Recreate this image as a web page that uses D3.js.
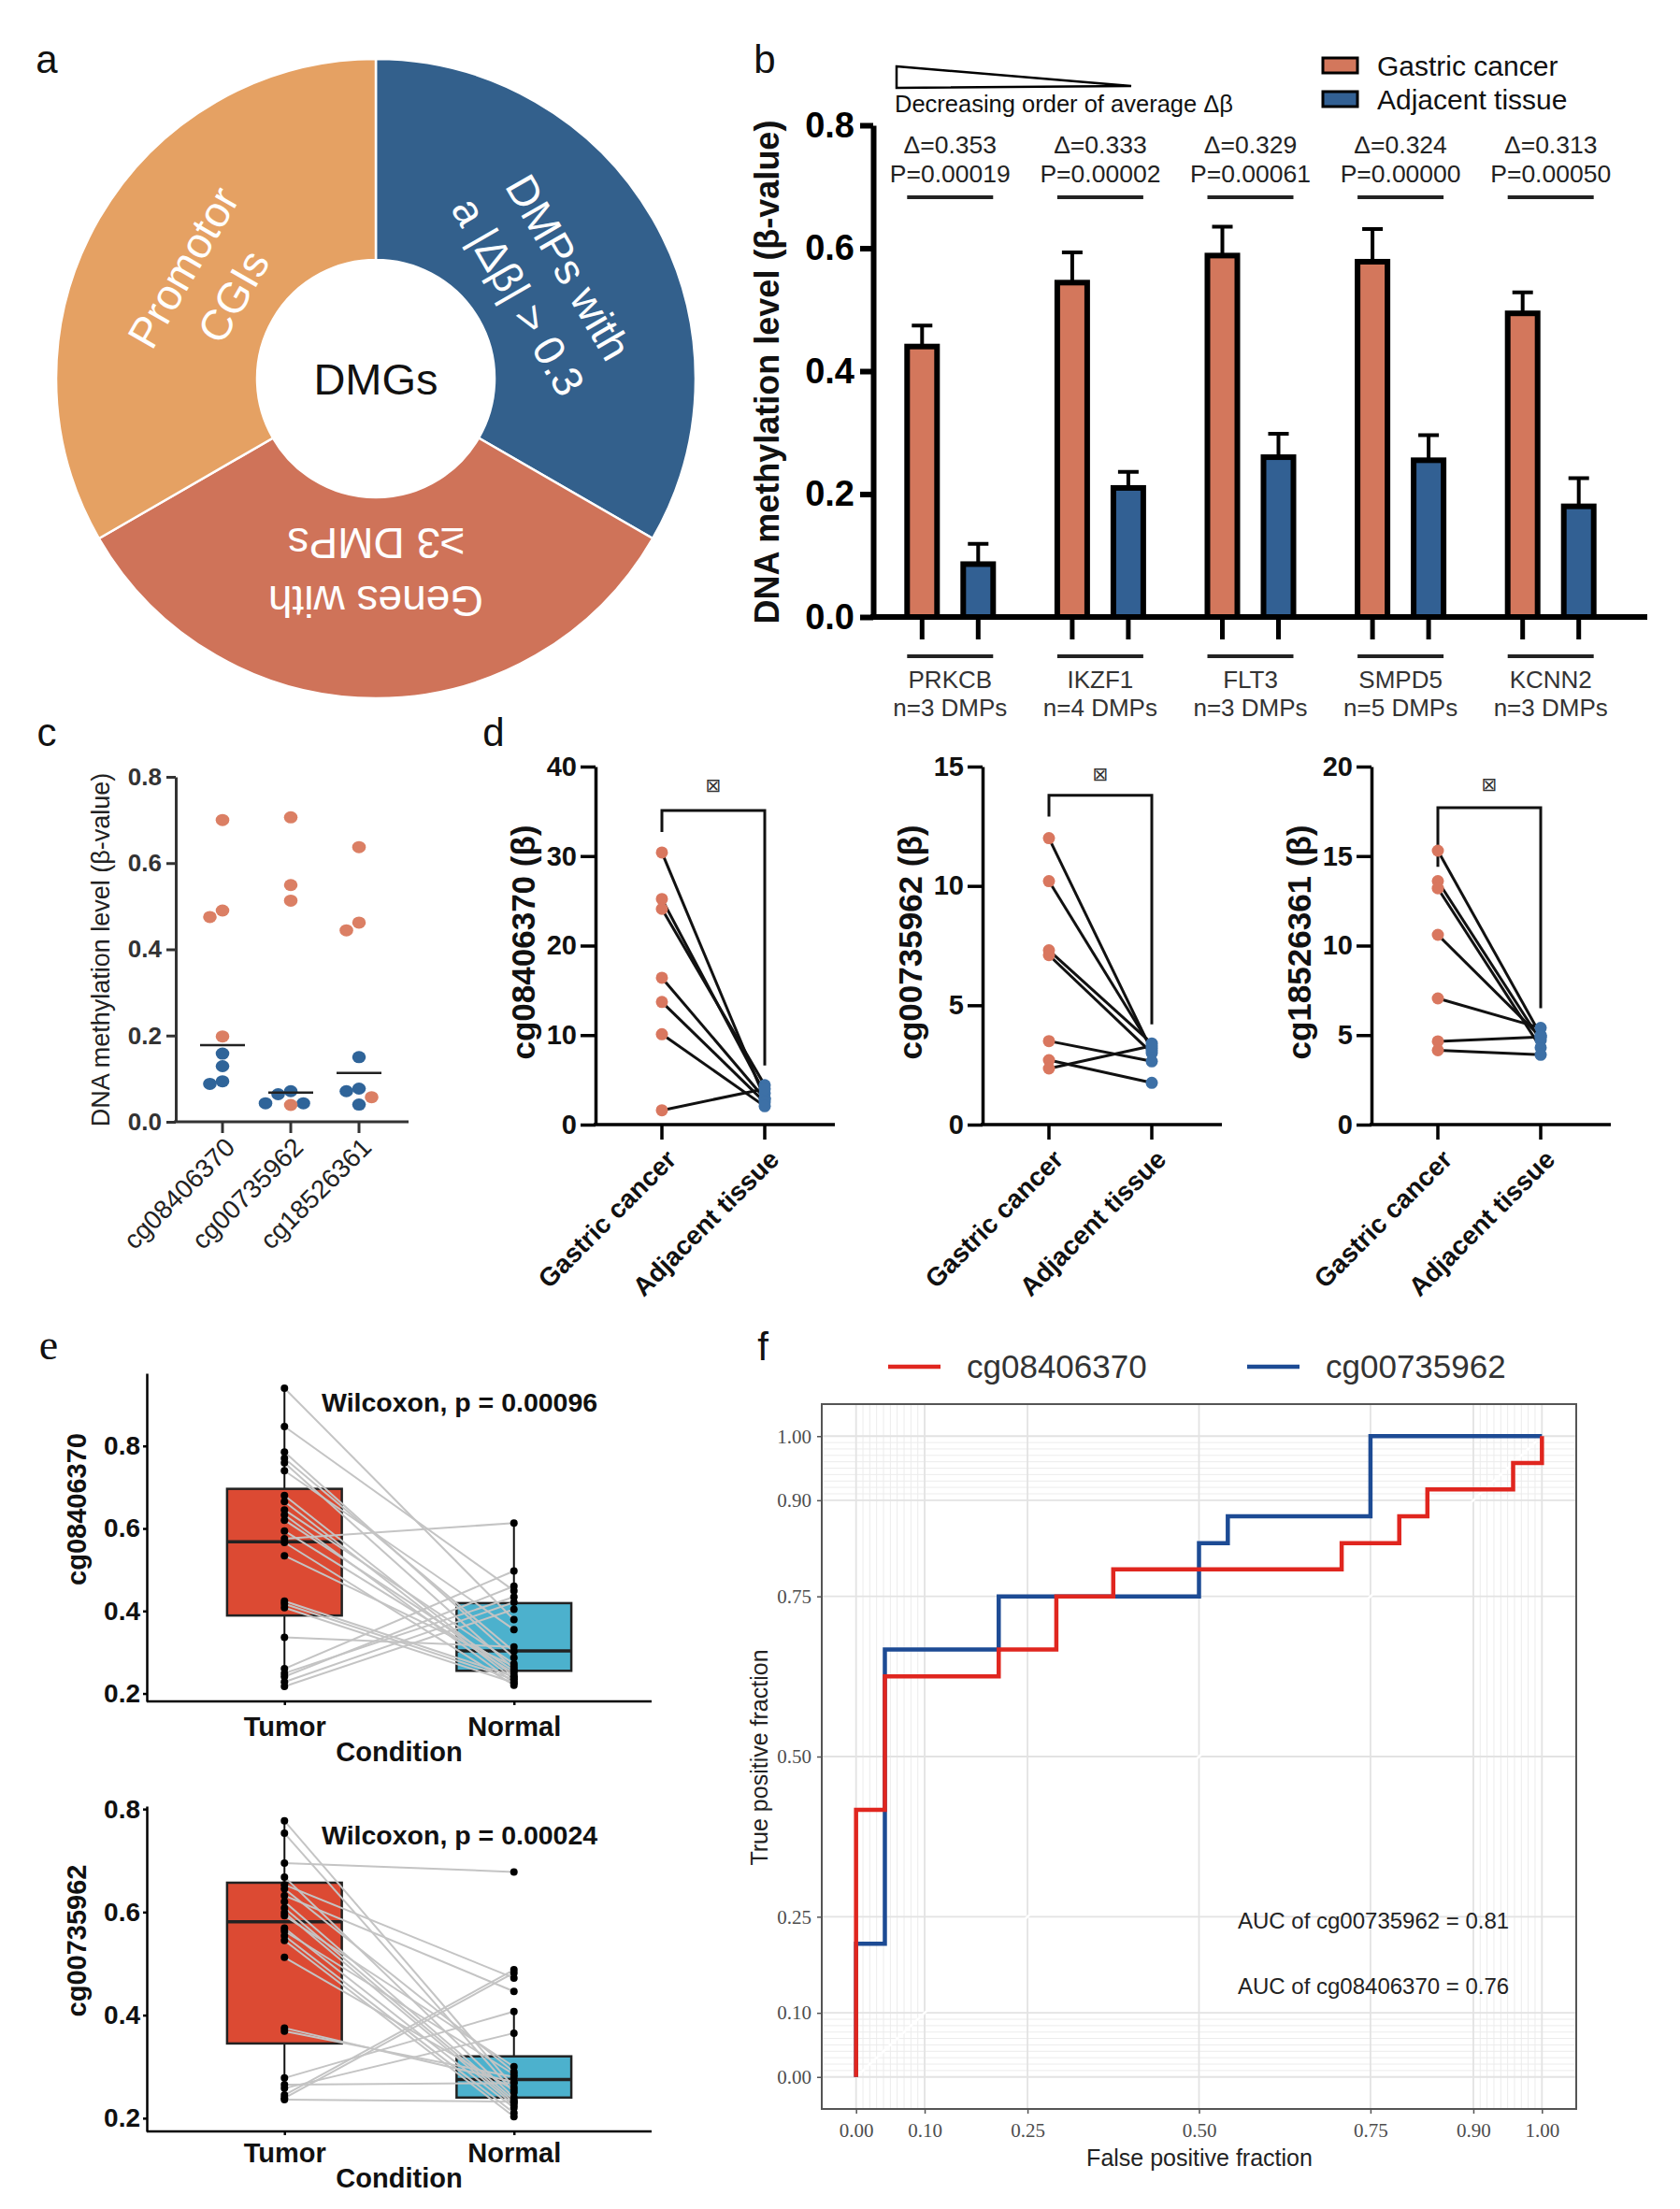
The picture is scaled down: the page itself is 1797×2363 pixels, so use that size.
<!DOCTYPE html>
<html>
<head>
<meta charset="utf-8">
<script src="https://cdn.jsdelivr.net/npm/d3@7"></script>
<style>
  body { margin: 0; background: #fff; }
  svg { display: block; font-family: "Liberation Sans", Arial, sans-serif; }
</style>
</head>
<body>
<div id="chart"></div>
<script>
// ---- panel a: donut ----
const donutValues = [1, 1, 1];
const donutText = [["DMPs with", "a |Δβ| > 0.3"], ["Genes with", "≥3 DMPs"], ["Promotor", "CGIs"]];
const donutColors = ["#33608c", "#cf7359", "#e5a163"];

// ---- panel b: bars ----
const genes = ["PRKCB", "IKZF1", "FLT3", "SMPD5", "KCNN2"];
const geneDMPs = ["n=3 DMPs", "n=4 DMPs", "n=3 DMPs", "n=5 DMPs", "n=3 DMPs"];
const deltas = ["0.353", "0.333", "0.329", "0.324", "0.313"];
const pvals = ["0.00019", "0.00002", "0.00061", "0.00000", "0.00050"];
const cancerMean = [0.440, 0.544, 0.588, 0.578, 0.494];
const cancerErr = [0.034, 0.049, 0.047, 0.053, 0.034];
const adjMean = [0.086, 0.210, 0.260, 0.255, 0.180];
const adjErr = [0.033, 0.026, 0.038, 0.041, 0.046];
const ticksB = [0, 0.2, 0.4, 0.6, 0.8];

// ---- panel c: dot plot ----
const probes = ["cg08406370", "cg00735962", "cg18526361"];
const cCancer = [[0.700, 0.490, 0.475, 0.198], [0.706, 0.549, 0.513, 0.039], [0.637, 0.462, 0.444, 0.057]];
const cAdjacent = [[0.158, 0.129, 0.094, 0.088], [0.071, 0.064, 0.043, 0.043], [0.150, 0.077, 0.071, 0.040]];

// ---- panel d: paired plots ----
const dGroups = ["Gastric cancer", "Adjacent tissue"];
const dTitles = ["cg08406370 (β)", "cg00735962 (β)", "cg18526361 (β)"];
const dMax = [40, 15, 20];
const dTicks = [[0, 10, 20, 30, 40], [0, 5, 10, 15], [0, 5, 10, 15, 20]];
const dCancer = [[30.4, 25.2, 24.1, 16.4, 13.7, 10.1, 1.6], [12.0, 10.2, 7.3, 7.1, 3.5, 2.7, 2.35], [15.3, 13.6, 13.2, 10.6, 7.05, 4.65, 4.15]];
const dAdjacent = [[2.9, 3.5, 4.4, 2.9, 2.5, 2.05, 4.0], [3.1, 3.2, 3.4, 3.0, 2.65, 1.75, 3.3], [5.0, 4.7, 4.3, 4.9, 5.4, 4.9, 3.9]];
const dBracket = [[32.7, 35.1, 6.6], [12.9, 13.8, 4.2], [14.4, 17.7, 6.5]]; // left leg, top, right leg (data units)
const dStar = [37.9, 14.7, 19.0];

// ---- panel e: paired box plots ----
const eGroups = ["Tumor", "Normal"];
const eTitles = ["cg08406370", "cg00735962"];
const eWilcox = ["Wilcoxon, p = 0.00096", "Wilcoxon, p = 0.00024"];
const eTicks = [0.2, 0.4, 0.6, 0.8];
const eTumor = [
  [0.94, 0.847, 0.785, 0.77, 0.759, 0.74, 0.68, 0.665, 0.645, 0.633, 0.62, 0.594, 0.575, 0.566, 0.534, 0.424, 0.417, 0.408, 0.336, 0.26, 0.249, 0.241, 0.228, 0.217],
  [0.777, 0.753, 0.695, 0.668, 0.653, 0.645, 0.632, 0.62, 0.608, 0.599, 0.593, 0.569, 0.563, 0.554, 0.545, 0.512, 0.375, 0.369, 0.278, 0.265, 0.258, 0.245, 0.239, 0.236]
];
const eNormal = [
  [0.379, 0.449, 0.287, 0.302, 0.26, 0.355, 0.241, 0.234, 0.272, 0.226, 0.255, 0.249, 0.613, 0.22, 0.266, 0.241, 0.234, 0.226, 0.313, 0.497, 0.434, 0.46, 0.421, 0.404],
  [0.26, 0.25, 0.678, 0.24, 0.472, 0.29, 0.446, 0.235, 0.23, 0.225, 0.30, 0.22, 0.285, 0.21, 0.203, 0.255, 0.27, 0.28, 0.407, 0.268, 0.365, 0.488, 0.482, 0.232]
];
// [lower whisker, q1, median, q3, upper whisker]
const eBoxTumor = [[0.217, 0.389, 0.568, 0.696, 0.94], [0.236, 0.345, 0.581, 0.657, 0.777]];
const eBoxNormal = [[0.22, 0.255, 0.303, 0.419, 0.613], [0.203, 0.24, 0.275, 0.32, 0.407]];

// ---- panel f: ROC ----
const rocNames = ["cg08406370", "cg00735962"];
const rocFpr = [
  [0, 0, 0.042, 0.208, 0.292, 0.375, 0.708, 0.792, 0.833, 0.958, 1],
  [0, 0, 0.042, 0.208, 0.5, 0.542, 0.75, 1]
];
const rocTpr = [
  [0, 0.417, 0.625, 0.667, 0.75, 0.792, 0.833, 0.875, 0.917, 0.958, 1],
  [0, 0.208, 0.667, 0.75, 0.833, 0.875, 1, 1]
];
const rocAUC = ["AUC of cg00735962 = 0.81", "AUC of cg08406370 = 0.76"];
const rocMajor = [0, 0.1, 0.25, 0.5, 0.75, 0.9, 1];
const rocMinor = d3.range(0, 0.1001, 0.01).concat(d3.range(0.9, 1.0001, 0.01));

const W = 1797, H = 2363;
const svg = d3.select("#chart").append("svg").attr("width", W).attr("height", H);
svg.append("rect").attr("width", W).attr("height", H).attr("fill", "#fff");

function styleAxis(g, sw, size, weight, color, family) {
  g.select(".domain").attr("stroke-width", sw).attr("stroke", "#000");
  g.selectAll(".tick line").attr("stroke-width", sw).attr("stroke", "#000");
  g.selectAll(".tick text").attr("font-size", size).attr("font-weight", weight)
    .attr("fill", color).attr("font-family", family || "Liberation Sans, Arial, sans-serif");
}

// panel letters
[["a", 50, 63], ["b", 818, 63], ["c", 50, 783], ["d", 528, 783], ["f", 816, 1440]].forEach(p => {
  svg.append("text").attr("x", p[1]).attr("y", p[2]).attr("dy", "0.35em").attr("text-anchor", "middle")
    .attr("font-size", 42).attr("fill", "#111").text(p[0]);
});
svg.append("text").attr("x", 52).attr("y", 1440).attr("dy", "0.3em").attr("text-anchor", "middle")
  .attr("font-size", 46).attr("font-family", "Liberation Serif, serif").attr("fill", "#111").text("e");

// ================= a =================
{
  const gA = svg.append("g").attr("transform", "translate(402,405)");
  const pie = d3.pie().sort(null).value(d => d);
  const arc = d3.arc().innerRadius(127).outerRadius(342);
  const arcs = pie(donutValues);
  gA.selectAll("path").data(arcs).join("path")
    .attr("d", arc).attr("fill", (d, i) => donutColors[i])
    .attr("stroke", "#fff").attr("stroke-width", 2.5);
  gA.selectAll("g.lab").data(arcs).join("g").attr("class", "lab")
    .attr("transform", d => {
      const a = (d.startAngle + d.endAngle) / 2;
      return `translate(${Math.sin(a) * 207},${-Math.cos(a) * 207}) rotate(${a * 180 / Math.PI})`;
    })
    .each(function(d, i) {
      d3.select(this).selectAll("text").data(donutText[i]).join("text")
        .attr("y", (t, j) => (j - 0.5) * 62).attr("dy", "0.35em")
        .attr("text-anchor", "middle").attr("fill", "#fff").attr("font-size", 46).text(t => t);
    });
  gA.append("text").attr("text-anchor", "middle").attr("dy", "0.36em")
    .attr("font-size", 47).attr("fill", "#111").text("DMGs");
}

// ================= b =================
{
  const y = d3.scaleLinear().domain([0, 0.8]).range([660, 134]);
  const x = d3.scaleBand().domain(genes).range([936, 1739]);
  const xi = d3.scaleBand().domain(["cancer", "adjacent"]).range([-60, 60]);
  const gc = g => x(g) + x.bandwidth() / 2;
  const bw = 32;
  const series = [
    { key: "cancer", mean: cancerMean, err: cancerErr, color: "#d3775c" },
    { key: "adjacent", mean: adjMean, err: adjErr, color: "#326093" }
  ];

  series.forEach(s => {
    const cxs = genes.map(g => gc(g) + xi(s.key) + xi.bandwidth() / 2);
    // error bars
    svg.append("g").selectAll("path").data(genes).join("path")
      .attr("d", (g, i) => {
        const c = cxs[i], y0 = y(s.mean[i]), y1 = y(s.mean[i] + s.err[i]);
        return `M${c},${y0}V${y1}M${c - 11},${y1}H${c + 11}`;
      })
      .attr("stroke", "#000").attr("stroke-width", 4).attr("fill", "none");
    svg.append("g").selectAll("rect").data(genes).join("rect")
      .attr("x", (g, i) => cxs[i] - bw / 2).attr("width", bw)
      .attr("y", (g, i) => y(s.mean[i])).attr("height", (g, i) => y(0) - y(s.mean[i]))
      .attr("fill", s.color).attr("stroke", "#000").attr("stroke-width", 6);
    // x ticks under bars
    svg.append("g").selectAll("line").data(genes).join("line")
      .attr("x1", (g, i) => cxs[i]).attr("x2", (g, i) => cxs[i])
      .attr("y1", y(0)).attr("y2", y(0) + 24).attr("stroke", "#000").attr("stroke-width", 5);
  });

  // axes
  const ya = svg.append("g").attr("transform", "translate(934,0)")
    .call(d3.axisLeft(y).tickValues(ticksB).tickFormat(d3.format(".1f")).tickSize(14).tickSizeOuter(0).tickPadding(6));
  styleAxis(ya, 6, 38, "bold", "#000");
  svg.append("line").attr("x1", 931).attr("x2", 1762).attr("y1", y(0)).attr("y2", y(0))
    .attr("stroke", "#000").attr("stroke-width", 6);

  svg.append("text").attr("transform", "translate(820,398) rotate(-90)").attr("text-anchor", "middle")
    .attr("dy", "0.35em").attr("font-size", 36).attr("font-weight", "bold").attr("fill", "#111")
    .text("DNA methylation level (β-value)");

  // group annotations
  const ann = svg.append("g").selectAll("g").data(genes).join("g")
    .attr("transform", g => `translate(${gc(g)},0)`);
  ann.append("text").attr("y", 155).attr("dy", "0.35em").attr("text-anchor", "middle")
    .attr("font-size", 26.5).attr("fill", "#222").text((g, i) => `Δ=${deltas[i]}`);
  ann.append("text").attr("y", 186).attr("dy", "0.35em").attr("text-anchor", "middle")
    .attr("font-size", 26.5).attr("fill", "#222").text((g, i) => `P=${pvals[i]}`);
  ann.append("line").attr("x1", -46).attr("x2", 46).attr("y1", 211).attr("y2", 211)
    .attr("stroke", "#222").attr("stroke-width", 4);
  ann.append("line").attr("x1", -46).attr("x2", 46).attr("y1", 702).attr("y2", 702)
    .attr("stroke", "#222").attr("stroke-width", 4);
  ann.append("text").attr("y", 727).attr("dy", "0.35em").attr("text-anchor", "middle")
    .attr("font-size", 26).attr("fill", "#333").text(g => g);
  ann.append("text").attr("y", 757).attr("dy", "0.35em").attr("text-anchor", "middle")
    .attr("font-size", 26).attr("fill", "#333").text((g, i) => geneDMPs[i]);

  // wedge + caption
  svg.append("path").attr("d", "M959,71L1210,92L959,94Z").attr("fill", "#fff")
    .attr("stroke", "#000").attr("stroke-width", 2.5);
  svg.append("text").attr("x", 957).attr("y", 111).attr("dy", "0.35em").attr("font-size", 25.5)
    .attr("fill", "#111").text("Decreasing order of average Δβ");

  // legend
  const leg = svg.append("g").selectAll("g").data(series).join("g")
    .attr("transform", (s, i) => `translate(1415,${70 + i * 36})`);
  leg.append("rect").attr("x", 0).attr("y", -8).attr("width", 37).attr("height", 16)
    .attr("fill", s => s.color).attr("stroke", "#000").attr("stroke-width", 3);
  leg.append("text").attr("x", 58).attr("dy", "0.35em").attr("font-size", 30).attr("fill", "#111")
    .text((s, i) => i === 0 ? "Gastric cancer" : "Adjacent tissue");
}

// ================= c =================
{
  const y = d3.scaleLinear().domain([0, 0.8]).range([1200, 831]);
  const x = d3.scalePoint().domain(probes).range([238, 384]);
  const r = 6.5, step = 13.5;
  probes.forEach((p, k) => {
    const pts = cCancer[k].map(v => ({ v, c: "#db7f64" }))
      .concat(cAdjacent[k].map(v => ({ v, c: "#2f6499" })))
      .sort((a, b) => b.v - a.v);
    const placed = [];
    pts.forEach(pt => {
      const py = y(pt.v);
      for (const o of [0, -1, 1, -2, 2, -3, 3]) {
        const px = x(p) + o * step;
        if (placed.every(q => Math.hypot(q.x - px, q.y - py) >= 2 * r)) {
          placed.push({ x: px, y: py, c: pt.c });
          break;
        }
      }
    });
    svg.append("g").selectAll("ellipse").data(placed).join("ellipse")
      .attr("cx", d => d.x).attr("cy", d => d.y).attr("rx", r + 0.8).attr("ry", r)
      .attr("fill", d => d.c);
    const med = d3.median(cCancer[k].concat(cAdjacent[k]));
    svg.append("line").attr("x1", x(p) - 24).attr("x2", x(p) + 24)
      .attr("y1", y(med)).attr("y2", y(med)).attr("stroke", "#222").attr("stroke-width", 2.5);
  });
  const ya = svg.append("g").attr("transform", "translate(188,0)")
    .call(d3.axisLeft(y).tickValues([0, 0.2, 0.4, 0.6, 0.8]).tickFormat(d3.format(".1f")).tickSize(10).tickSizeOuter(0).tickPadding(5));
  styleAxis(ya, 3, 26, "bold", "#333");
  ya.select(".domain").attr("stroke", "#333");
  ya.selectAll(".tick line").attr("stroke", "#333");
  svg.append("line").attr("x1", 186).attr("x2", 437).attr("y1", y(0)).attr("y2", y(0))
    .attr("stroke", "#333").attr("stroke-width", 3);
  svg.append("g").selectAll("line").data(probes).join("line")
    .attr("x1", d => x(d)).attr("x2", d => x(d)).attr("y1", y(0)).attr("y2", y(0) + 12)
    .attr("stroke", "#333").attr("stroke-width", 3);
  svg.append("g").selectAll("text").data(probes).join("text")
    .attr("transform", d => `translate(${x(d) + 8},${y(0) + 22}) rotate(-45)`)
    .attr("text-anchor", "end").attr("dy", "0.35em").attr("font-size", 28).attr("fill", "#222").text(d => d);
  svg.append("text").attr("transform", "translate(108,1016) rotate(-90)").attr("text-anchor", "middle")
    .attr("dy", "0.35em").attr("font-size", 27).attr("fill", "#222").text("DNA methylation level (β-value)");
}

// ================= d =================
{
  const axisXs = [637, 1051, 1467];
  dTitles.forEach((title, k) => {
    const x0 = axisXs[k];
    const y = d3.scaleLinear().domain([0, dMax[k]]).range([1203, 820]);
    const x = d3.scalePoint().domain(dGroups).range([x0 + 71, x0 + 181]);
    const g = svg.append("g");
    // bracket
    const b = dBracket[k];
    g.append("path")
      .attr("d", `M${x(dGroups[0])},${y(b[0])}V${y(b[1])}H${x(dGroups[1])}V${y(b[2])}`)
      .attr("fill", "none").attr("stroke", "#111").attr("stroke-width", 3);
    g.append("text").attr("x", (x(dGroups[0]) + x(dGroups[1])) / 2).attr("y", y(dStar[k]))
      .attr("dy", "0.35em").attr("text-anchor", "middle").attr("font-size", 20)
      .attr("font-family", "DejaVu Sans, sans-serif").attr("fill", "#333").text("⊠");
    // pair lines
    g.append("g").selectAll("line").data(dCancer[k]).join("line")
      .attr("x1", x(dGroups[0])).attr("x2", x(dGroups[1]))
      .attr("y1", v => y(v)).attr("y2", (v, i) => y(dAdjacent[k][i]))
      .attr("stroke", "#111").attr("stroke-width", 3);
    g.append("g").selectAll("circle").data(dCancer[k]).join("circle")
      .attr("cx", x(dGroups[0])).attr("cy", v => y(v)).attr("r", 6.5).attr("fill", "#d9775f");
    g.append("g").selectAll("circle").data(dAdjacent[k]).join("circle")
      .attr("cx", x(dGroups[1])).attr("cy", v => y(v)).attr("r", 6.5).attr("fill", "#3d70a6");
    // axes
    const ya = g.append("g").attr("transform", `translate(${x0},0)`)
      .call(d3.axisLeft(y).tickValues(dTicks[k]).tickSize(16).tickSizeOuter(0).tickPadding(4));
    styleAxis(ya, 3.5, 29, "bold", "#111");
    g.append("line").attr("x1", x0 - 2).attr("x2", x0 + 256).attr("y1", y(0)).attr("y2", y(0))
      .attr("stroke", "#000").attr("stroke-width", 3.5);
    g.append("g").selectAll("line").data(dGroups).join("line")
      .attr("x1", d => x(d)).attr("x2", d => x(d)).attr("y1", y(0)).attr("y2", y(0) + 16)
      .attr("stroke", "#000").attr("stroke-width", 3.5);
    g.append("g").selectAll("text").data(dGroups).join("text")
      .attr("transform", d => `translate(${x(d) + 10},${y(0) + 32}) rotate(-45)`)
      .attr("text-anchor", "end").attr("dy", "0.35em").attr("font-size", 28).attr("font-weight", "bold")
      .attr("fill", "#111").text(d => d);
    g.append("text").attr("transform", `translate(${x0 - 77},1008) rotate(-90)`).attr("text-anchor", "middle")
      .attr("dy", "0.35em").attr("font-size", 35).attr("font-weight", "bold").attr("fill", "#111").text(title);
  });
}

// ================= e =================
{
  const tops = [1469, 1932], bottoms = [1820, 2280];
  eTitles.forEach((title, k) => {
    const all = eTumor[k].concat(eNormal[k]);
    const ext = d3.extent(all), pad = (ext[1] - ext[0]) * 0.05;
    const y = d3.scaleLinear().domain([ext[0] - pad, ext[1] + pad]).range([bottoms[k], tops[k]]);
    const x = d3.scalePoint().domain(eGroups).range([157, 697]).padding(0.6);
    const bw = x.step() * 0.5;
    const g = svg.append("g");
    const boxes = [
      { grp: "Tumor", s: eBoxTumor[k], fill: "#dc4a33" },
      { grp: "Normal", s: eBoxNormal[k], fill: "#4cb1cd" }
    ];
    boxes.forEach(bx => {
      const c = x(bx.grp), s = bx.s;
      g.append("line").attr("x1", c).attr("x2", c).attr("y1", y(s[0])).attr("y2", y(s[4]))
        .attr("stroke", "#111").attr("stroke-width", 2);
      g.append("rect").attr("x", c - bw / 2).attr("width", bw).attr("y", y(s[3])).attr("height", y(s[1]) - y(s[3]))
        .attr("fill", bx.fill).attr("stroke", "#222").attr("stroke-width", 2.5);
      g.append("line").attr("x1", c - bw / 2).attr("x2", c + bw / 2).attr("y1", y(s[2])).attr("y2", y(s[2]))
        .attr("stroke", "#222").attr("stroke-width", 3.5);
    });
    g.append("g").selectAll("line").data(eTumor[k]).join("line")
      .attr("x1", x("Tumor")).attr("x2", x("Normal"))
      .attr("y1", v => y(v)).attr("y2", (v, i) => y(eNormal[k][i]))
      .attr("stroke", "#c4c4c4").attr("stroke-width", 2);
    [["Tumor", eTumor[k]], ["Normal", eNormal[k]]].forEach(([grp, vals]) => {
      g.append("g").selectAll("circle").data(vals).join("circle")
        .attr("cx", x(grp)).attr("cy", v => y(v)).attr("r", 4).attr("fill", "#000");
    });
    const ya = g.append("g").attr("transform", "translate(157,0)")
      .call(d3.axisLeft(y).tickValues(eTicks).tickFormat(d3.format(".1f")).tickSize(4).tickSizeOuter(0).tickPadding(3));
    styleAxis(ya, 2.5, 28, "bold", "#111");
    const xa = g.append("g").attr("transform", `translate(0,${bottoms[k]})`)
      .call(d3.axisBottom(x).tickSize(4).tickSizeOuter(0).tickPadding(k === 0 ? 12 : 8));
    styleAxis(xa, 2.5, 29, "bold", "#111");
    xa.select(".domain").attr("d", `M157,0H697`);
    g.append("text").attr("x", 427).attr("y", bottoms[k] + (k === 0 ? 54 : 50)).attr("dy", "0.35em").attr("text-anchor", "middle")
      .attr("font-size", 29).attr("font-weight", "bold").attr("fill", "#111").text("Condition");
    g.append("text").attr("x", 344).attr("y", tops[k] + 31).attr("dy", "0.35em")
      .attr("font-size", 28.5).attr("font-weight", "bold").attr("fill", "#111").text(eWilcox[k]);
    g.append("text").attr("transform", `translate(82,${(tops[k] + bottoms[k]) / 2 - 30}) rotate(-90)`)
      .attr("text-anchor", "middle").attr("dy", "0.35em").attr("font-size", 29).attr("font-weight", "bold")
      .attr("fill", "#111").text(title);
  });
}

// ================= f =================
{
  const x = d3.scaleLinear().domain([-0.05, 1.05]).range([879, 1686]);
  const y = d3.scaleLinear().domain([-0.05, 1.05]).range([2256, 1502]);
  const g = svg.append("g");
  const colors = ["#e0261f", "#1d4b94"];
  rocMinor.forEach(v => {
    g.append("line").attr("x1", x(v)).attr("x2", x(v)).attr("y1", y(-0.05)).attr("y2", y(1.05))
      .attr("stroke", "#ececec").attr("stroke-width", 1);
    g.append("line").attr("y1", y(v)).attr("y2", y(v)).attr("x1", x(-0.05)).attr("x2", x(1.05))
      .attr("stroke", "#ececec").attr("stroke-width", 1);
  });
  rocMajor.forEach(v => {
    g.append("line").attr("x1", x(v)).attr("x2", x(v)).attr("y1", y(-0.05)).attr("y2", y(1.05))
      .attr("stroke", "#e3e3e3").attr("stroke-width", 1.8);
    g.append("line").attr("y1", y(v)).attr("y2", y(v)).attr("x1", x(-0.05)).attr("x2", x(1.05))
      .attr("stroke", "#e3e3e3").attr("stroke-width", 1.8);
  });
  g.append("line").attr("x1", x(0)).attr("y1", y(0)).attr("x2", x(1)).attr("y2", y(1))
    .attr("stroke", "#fff").attr("stroke-width", 2.5);
  const line = d3.line().curve(d3.curveStepAfter).x(d => x(d[0])).y(d => y(d[1]));
  [1, 0].forEach(k => {
    const pts = rocFpr[k].map((f, i) => [f, rocTpr[k][i]]);
    g.append("path").attr("d", line(pts)).attr("fill", "none")
      .attr("stroke", colors[k]).attr("stroke-width", 4.5);
  });
  g.append("rect").attr("x", x(-0.05)).attr("y", y(1.05)).attr("width", x(1.05) - x(-0.05))
    .attr("height", y(-0.05) - y(1.05)).attr("fill", "none").attr("stroke", "#555").attr("stroke-width", 2);
  const fmt = d3.format(".2f");
  const xa = g.append("g").attr("transform", `translate(0,${y(-0.05)})`)
    .call(d3.axisBottom(x).tickValues(rocMajor).tickFormat(fmt).tickSize(5).tickSizeOuter(0).tickPadding(10));
  styleAxis(xa, 1.5, 21, "normal", "#4d4d4d", "Liberation Serif, serif");
  xa.select(".domain").remove();
  xa.selectAll(".tick line").attr("stroke", "#555");
  const ya = g.append("g").attr("transform", `translate(${x(-0.05)},0)`)
    .call(d3.axisLeft(y).tickValues(rocMajor).tickFormat(fmt).tickSize(5).tickSizeOuter(0).tickPadding(6));
  styleAxis(ya, 1.5, 21, "normal", "#4d4d4d", "Liberation Serif, serif");
  ya.select(".domain").remove();
  ya.selectAll(".tick line").attr("stroke", "#555");
  g.append("text").attr("x", 1283).attr("y", 2308).attr("dy", "0.35em").attr("text-anchor", "middle")
    .attr("font-size", 25).attr("fill", "#222").text("False positive fraction");
  g.append("text").attr("transform", "translate(812,1880) rotate(-90)").attr("text-anchor", "middle")
    .attr("dy", "0.35em").attr("font-size", 25).attr("fill", "#222").text("True positive fraction");
  g.selectAll("text.auc").data(rocAUC).join("text").attr("class", "auc")
    .attr("x", 1324).attr("y", (d, i) => 2055 + i * 70).attr("dy", "0.35em")
    .attr("font-size", 24).attr("fill", "#222").text(d => d);
  // legend
  const lg = g.selectAll("g.lg").data(rocNames).join("g").attr("class", "lg")
    .attr("transform", (d, i) => `translate(${950 + i * 384},1462)`);
  lg.append("line").attr("x1", 0).attr("x2", 56).attr("stroke", (d, i) => colors[i]).attr("stroke-width", 4.5);
  lg.append("text").attr("x", 84).attr("dy", "0.35em").attr("font-size", 35).attr("fill", "#333").text(d => d);
}
</script>
</body>
</html>
